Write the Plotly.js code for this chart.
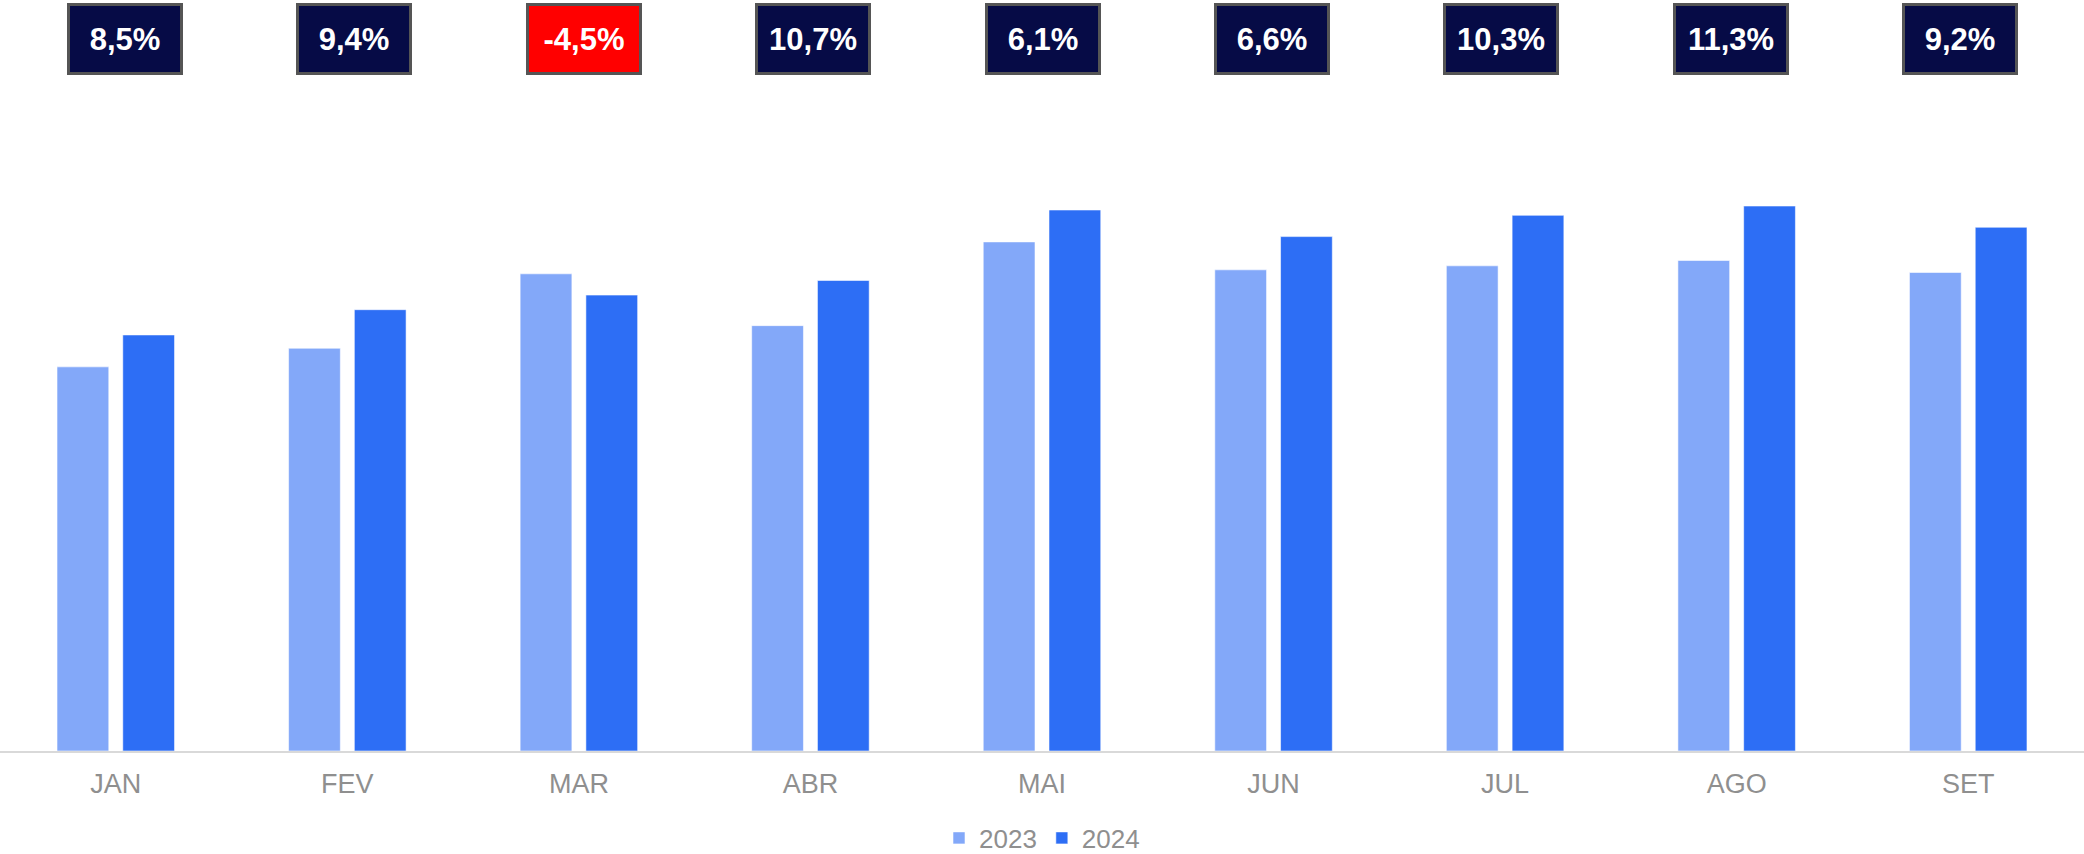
<!DOCTYPE html>
<html>
<head>
<meta charset="utf-8">
<script src="https://cdn.plot.ly/plotly-3.0.1.min.js"></script>
<style>
  html, body { margin: 0; padding: 0; background: #ffffff; }
  #chart { width: 2084px; height: 854px; }
</style>
</head>
<body>
<div id="chart"></div>
<script>
// ---- data ----
const months = ["JAN", "FEV", "MAR", "ABR", "MAI", "JUN", "JUL", "AGO", "SET"];
const values2023 = [289, 303, 359, 320, 383, 362, 365, 369, 360];
const values2024 = [313, 332, 343, 354, 407, 387, 403, 410, 394];
const growthLabels = ["8,5%", "9,4%", "-4,5%", "10,7%", "6,1%", "6,6%", "10,3%", "11,3%", "9,2%"];
const seriesNames = ["2023", "2024"];

// ---- styles ----
const color2023 = "#83A8F9";
const color2024 = "#2D6EF5";
const boxPositive = "#060B46";
const boxNegative = "#FF0000";
const labelGray = "#8F8F8F";
const fontFamily = "'Liberation Sans', Arial, sans-serif";

const traces = [
  {
    type: "bar", name: seriesNames[0], x: months, y: values2023,
    marker: { color: color2023, line: { color: "rgba(255,255,255,0.55)", width: 1 } },
    hoverinfo: "skip"
  },
  {
    type: "bar", name: seriesNames[1], x: months, y: values2024,
    marker: { color: color2024, line: { color: "rgba(255,255,255,0.55)", width: 1 } },
    hoverinfo: "skip"
  },
  {
    type: "scatter", mode: "markers", x: months.map((m, i) => i), y: months.map(() => null),
    xaxis: "x2", yaxis: "y", showlegend: false, hoverinfo: "skip"
  }
];

const annotations = growthLabels.map((t, i) => ({
  xref: "x2", yref: "paper",
  x: i, y: 1 - 39 / 751,
  xanchor: "center", yanchor: "middle",
  text: "<b>" + t + "</b>",
  showarrow: false,
  font: { family: fontFamily, size: 31, color: "#ffffff" },
  bgcolor: t.trim().startsWith("-") ? boxNegative : boxPositive,
  bordercolor: "#555555",
  borderwidth: 3,
  borderpad: 0,
  width: 110,
  height: 66
}));

const layout = {
  width: 2084,
  height: 854,
  margin: { l: 0, r: 0, t: 0, b: 103, pad: 0 },
  paper_bgcolor: "#ffffff",
  plot_bgcolor: "#ffffff",
  barmode: "group",
  bargap: 0.432,
  bargroupgap: 0.213,
  showlegend: true,
  legend: {
    orientation: "h",
    xref: "container", yref: "container",
    x: 0.5, xanchor: "center",
    y: 16 / 854, yanchor: "middle",
    font: { family: fontFamily, size: 26, color: labelGray },
    itemwidth: 30,
    traceorder: "normal"
  },
  xaxis: {
    type: "category",
    showgrid: false,
    zeroline: false,
    showline: true,
    linecolor: "#D9D9D9",
    linewidth: 2,
    ticks: "",
    ticklabelstandoff: 8,
    tickfont: { family: fontFamily, size: 27, color: labelGray },
    fixedrange: true
  },
  xaxis2: {
    type: "linear",
    overlaying: "x",
    range: [-125 / 229.4, (2084 - 125) / 229.4],
    visible: false,
    fixedrange: true
  },
  yaxis: {
    range: [0, 565],
    visible: false,
    showgrid: false,
    zeroline: false,
    fixedrange: true
  },
  annotations: annotations
};

Plotly.newPlot("chart", traces, layout, { displayModeBar: false, staticPlot: true });
</script>
</body>
</html>
